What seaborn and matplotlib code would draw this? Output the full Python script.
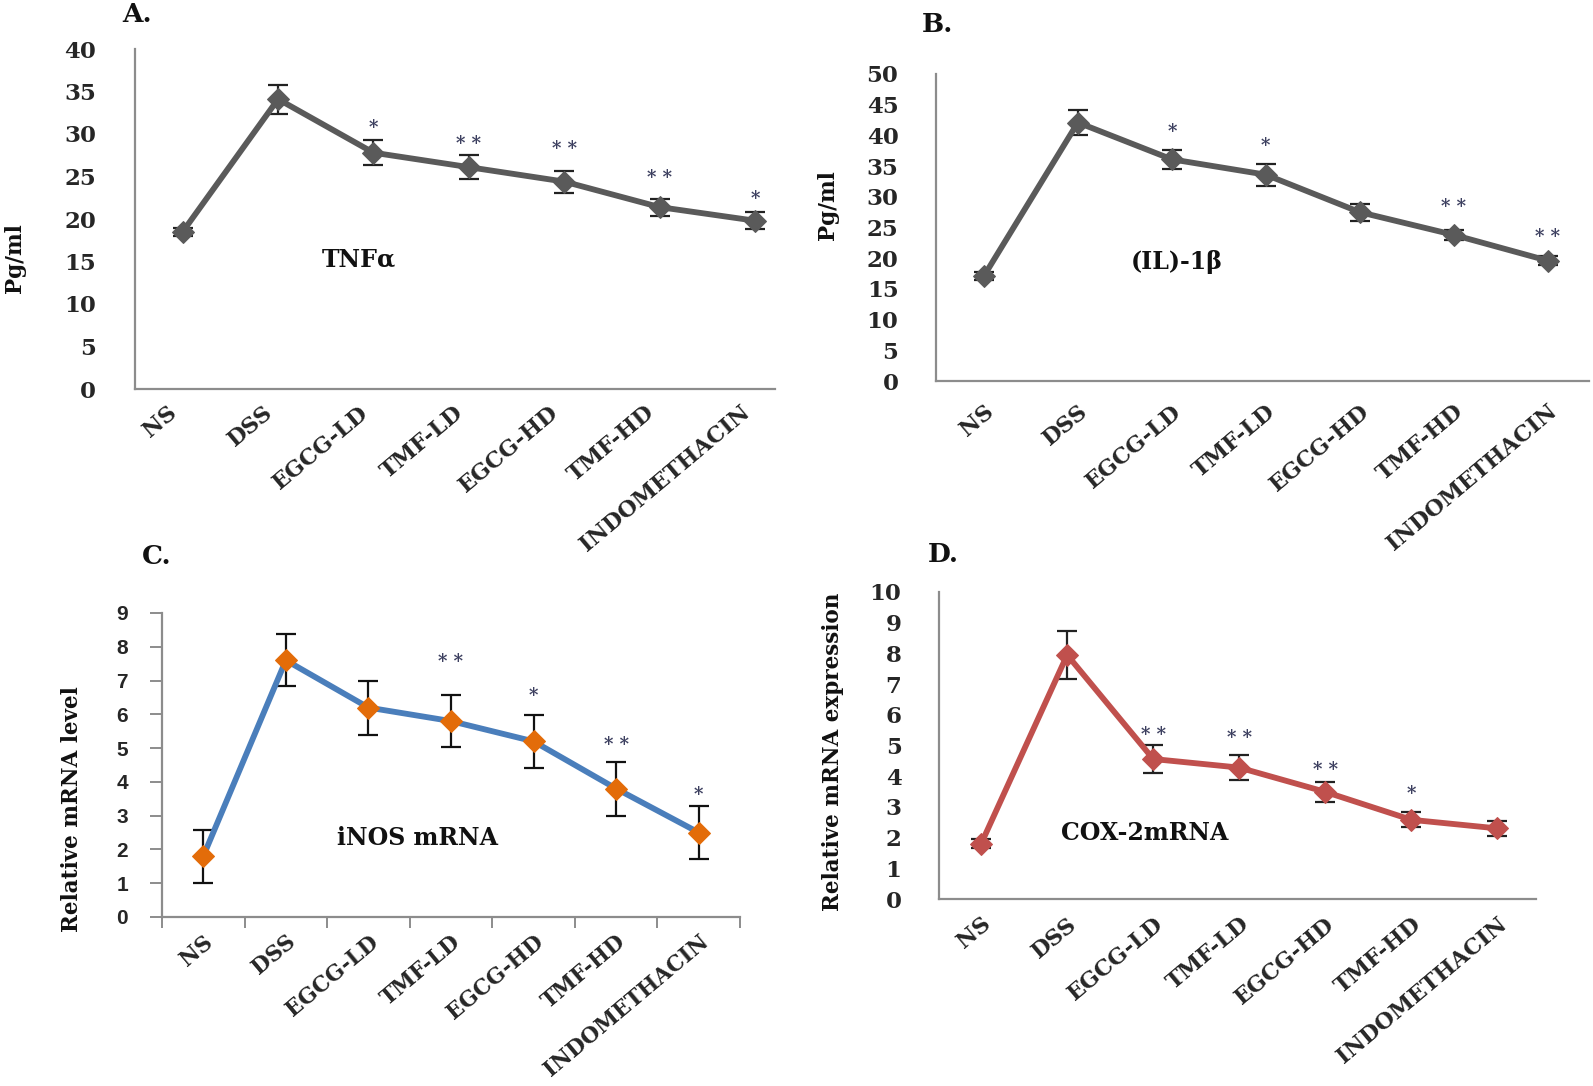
import numpy as np
import pandas as pd
import matplotlib
matplotlib.use("Agg")
import matplotlib.pyplot as plt
import seaborn as sns

categories = ["NS", "DSS", "EGCG-LD", "TMF-LD", "EGCG-HD", "TMF-HD", "INDOMETHACIN"]

tnf_mean = [18.5, 34.1, 27.8, 26.1, 24.4, 21.4, 19.8]
tnf_err = [0.5, 1.7, 1.5, 1.4, 1.3, 1.0, 1.0]
tnf_stars = ["", "", "*", "* *", "* *", "* *", "*"]
tnf_star_y = [None, None, 30.7, 28.8, 28.2, 24.8, 22.4]

il_mean = [17.1, 42.1, 36.1, 33.6, 27.5, 23.8, 19.6]
il_err = [0.6, 2.1, 1.6, 1.8, 1.4, 0.8, 0.7]
il_stars = ["", "", "*", "*", "", "* *", "* *"]
il_star_y = [None, None, 40.6, 38.2, None, 28.4, 23.4]

inos_mean = [1.8, 7.6, 6.2, 5.8, 5.2, 3.8, 2.5]
inos_err = [0.78, 0.77, 0.8, 0.78, 0.78, 0.8, 0.78]
inos_stars = ["", "", "", "* *", "*", "* *", "*"]
inos_star_y = [None, None, None, 7.55, 6.55, 5.1, 3.6]

cox_mean = [1.8, 7.95, 4.56, 4.28, 3.49, 2.58, 2.3]
cox_err = [0.15, 0.78, 0.47, 0.42, 0.33, 0.25, 0.25]
cox_stars = ["", "", "* *", "* *", "* *", "*", ""]
cox_star_y = [None, None, 5.33, 5.26, 4.19, 3.43, None]

sns.set_theme(style="white")
plt.rcParams["font.family"] = ["DejaVu Serif"]

W, H = 1593, 1086
fig = plt.figure(figsize=(W / 100, H / 100), dpi=100)

def frac(left, right, top, bottom):
    return [left / W, 1 - bottom / H, (right - left) / W, (bottom - top) / H]

SERIF = "DejaVu Serif"
SANS = "Liberation Sans"

def panel(rect, mean, err, stars, star_y, ylim, yticks, xlim, line_color, marker_color,
          err_color, label_text, label_xy, ylabel, ylabel_xy, letter, letter_xy,
          sans_yticks=False, cat_ticks=False, ms=11.5, lw=4.2, xlab_shift=0.0,
          xpad=6, ypad=22, xfs=16):
    ax = fig.add_axes(rect)
    n = len(categories)
    df = pd.DataFrame({"x": np.arange(n), "y": mean})
    ax.errorbar(df["x"], df["y"], yerr=err, fmt="none", ecolor=err_color,
                elinewidth=1.6, capsize=7, capthick=1.6, zorder=2)
    sns.lineplot(data=df, x="x", y="y", ax=ax, color=line_color, linewidth=lw,
                 marker="D", markersize=ms, markerfacecolor=marker_color,
                 markeredgecolor=marker_color, zorder=3)
    ax.set_xlim(*xlim)
    ax.set_ylim(*ylim)
    ax.set_yticks(yticks)
    ax.set_yticklabels([str(t) for t in yticks],
                       fontfamily=SANS if sans_yticks else SERIF,
                       fontweight="bold", fontsize=15 if sans_yticks else 16.5)
    ax.set_xticks(np.arange(n) + xlab_shift)
    ax.set_xticklabels(categories, rotation=40, ha="right", rotation_mode="anchor",
                       fontfamily=SERIF, fontweight="bold", fontsize=xfs)
    for s in ["top", "right"]:
        ax.spines[s].set_visible(False)
    for s in ["left", "bottom"]:
        ax.spines[s].set_color("#8c8c8c")
        ax.spines[s].set_linewidth(1.6)
    if cat_ticks:
        ax.tick_params(axis="y", which="major", left=True, length=8.5, width=1.4,
                       color="#8c8c8c", direction="out", pad=ypad)
        ax.set_xticks(np.arange(-0.5, n, 1.0), minor=True)
        ax.tick_params(axis="x", which="minor", bottom=True, length=8, width=1.4,
                       color="#8c8c8c", direction="out")
        ax.tick_params(axis="x", which="major", bottom=False, pad=xpad)
    else:
        ax.tick_params(axis="y", left=False, pad=ypad)
        ax.tick_params(axis="x", bottom=False, pad=xpad)
    ax.set_xlabel("")
    ax.set_ylabel("")
    for i, (st, sy) in enumerate(zip(stars, star_y)):
        if st:
            ax.text(i, sy, st, ha="center", va="center", fontsize=13,
                    color="#3d4060", fontfamily=SERIF, fontweight="bold")
    ax.text(label_xy[0], label_xy[1], label_text, ha="center", va="center",
            fontsize=17, fontweight="bold", fontfamily=SERIF, color="#111111")
    fig.text(ylabel_xy[0] / W, 1 - ylabel_xy[1] / H, ylabel, rotation=90,
             ha="center", va="center", fontsize=15.5, fontweight="bold",
             fontfamily=SERIF, color="#111111")
    fig.text(letter_xy[0] / W, 1 - letter_xy[1] / H, letter, ha="left",
             va="center", fontsize=19, fontweight="bold", fontfamily=SERIF,
             color="#111111")
    return ax

gray = "#5a5a5a"
panel(frac(135, 775, 49, 389), tnf_mean, tnf_err, tnf_stars, tnf_star_y,
      (0, 40), list(range(0, 41, 5)), (-0.5, 6.21), gray, gray, "#222222",
      "TNF\u03b1", (1.85, 15.3), "Pg/ml", (15, 258), "A.", (122, 15),
      xlab_shift=-0.16, xpad=3, ypad=22)

panel(frac(936, 1589, 74, 381), il_mean, il_err, il_stars, il_star_y,
      (0, 50), list(range(0, 51, 5)), (-0.51, 6.44), gray, gray, "#222222",
      "(IL)-1\u03b2", (2.05, 19.4), "Pg/ml", (828, 205), "B.", (922, 25),
      xpad=8, ypad=21)

panel(frac(162, 740, 613, 917), inos_mean, inos_err, inos_stars, inos_star_y,
      (0, 9), list(range(0, 10)), (-0.5, 6.5), "#4a7ebb", "#e36c09", "#111111",
      "iNOS mRNA", (2.6, 2.35), "Relative mRNA level", (72, 809), "C.", (142, 557),
      sans_yticks=True, cat_ticks=True, xpad=4, ypad=16, xfs=15.5)

panel(frac(939, 1536, 592, 899), cox_mean, cox_err, cox_stars, cox_star_y,
      (0, 10), list(range(0, 11)), (-0.49, 6.45), "#c0504d", "#c0504d", "#222222",
      "COX-2mRNA", (1.9, 2.15), "Relative mRNA expression", (833, 752), "D.", (928, 554),
      xpad=4, ypad=21)

fig.savefig("out.png", dpi=100)
